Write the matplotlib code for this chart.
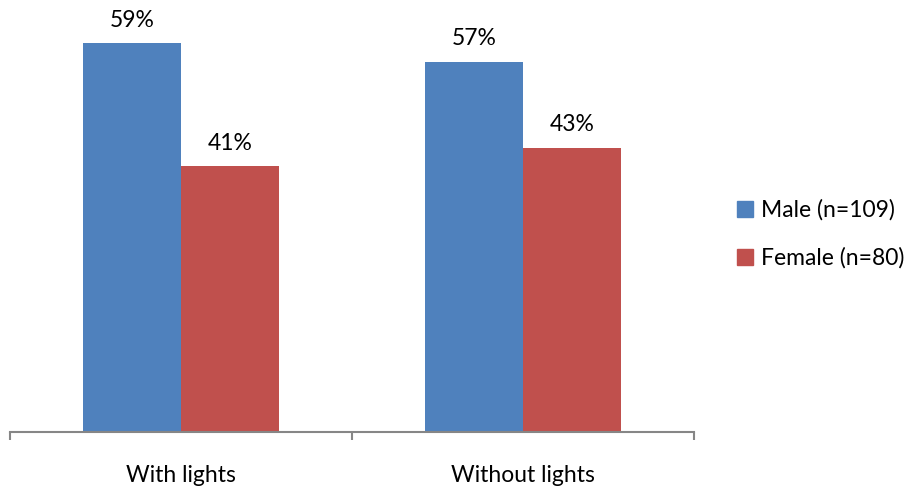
import matplotlib
matplotlib.use("Agg")
import matplotlib.pyplot as plt
from matplotlib.patches import Patch
import numpy as np

plt.rcParams['font.family'] = ['Lato', 'DejaVu Sans']

categories = ["With lights", "Without lights"]
series_names = ["Male (n=109)", "Female (n=80)"]
male = [0.594, 0.566]
female = [0.406, 0.434]
colors = ["#4F81BD", "#C0504D"]

W, H = 918, 493
fig = plt.figure(figsize=(W / 100, H / 100), dpi=100)
ax = fig.add_axes([10 / W, (H - 432) / H, (694 - 10) / W, 432 / H])

x = np.arange(len(categories))
bw = 98 / 342
b1 = ax.bar(x - bw / 2, male, bw, color=colors[0], label=series_names[0])
b2 = ax.bar(x + bw / 2, female, bw, color=colors[1], label=series_names[1])

FS = 16.5
for bars, vals in ((b1, male), (b2, female)):
    for rect, v in zip(bars, vals):
        ax.annotate(f"{round(v * 100):d}%", (rect.get_x() + rect.get_width() / 2, v),
                    xytext=(0, 9), textcoords="offset points", ha="center", va="bottom",
                    fontsize=FS, color="#000000")

ax.set_xlim(-0.5, len(categories) - 0.5)
ax.set_ylim(0, 0.66)
for s in ("top", "right", "left"):
    ax.spines[s].set_visible(False)
ax.spines["bottom"].set_color("#868686")
ax.spines["bottom"].set_linewidth(1.5)
ax.set_yticks([])
ax.set_xticks(np.arange(len(categories) + 1) - 0.5)
ax.set_xticklabels([])
ax.tick_params(axis="x", which="major", length=6, width=1.5, color="#868686", direction="out")
ax.set_xticks(x, minor=True)
ax.set_xticklabels(categories, minor=True, fontsize=FS)
ax.tick_params(axis="x", which="minor", length=0, pad=24)

handles = [Patch(color=c, label=n) for c, n in zip(colors, series_names)]
fig.legend(handles=handles, loc="center left", bbox_to_anchor=(716 / W, 1 - 234 / H),
           frameon=False, fontsize=FS, handlelength=0.7, handleheight=0.7,
           handletextpad=0.35, labelspacing=1.15)

fig.savefig("out.png", dpi=100)
